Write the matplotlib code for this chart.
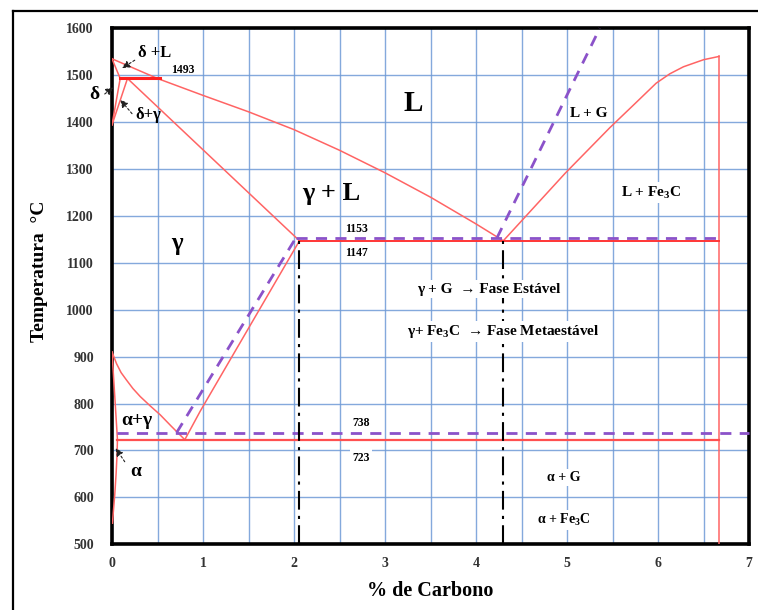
import numpy as np
import matplotlib
matplotlib.use("Agg")
import matplotlib.pyplot as plt
from matplotlib.lines import Line2D

plt.rcParams['font.family'] = ['Liberation Serif', 'DejaVu Serif']
plt.rcParams['font.weight'] = 'bold'
plt.rcParams['mathtext.fontset'] = 'custom'
plt.rcParams['mathtext.rm'] = 'Liberation Serif:bold'
plt.rcParams['mathtext.bf'] = 'Liberation Serif:bold'

#                            Data                     #
# liquidus A-B-C (Fe-Fe3C)
liq_x = [0.0, 0.5, 1.0, 1.5, 2.0, 2.5, 3.0, 3.5, 4.0, 4.3]
liq_t = [1535, 1493, 1457, 1422, 1384, 1340, 1292, 1240, 1183, 1147]
# liquidus C-D
cd_x = [4.3, 4.98, 5.47, 5.75, 5.98, 6.13, 6.28, 6.5, 6.67]
cd_t = [1147, 1291, 1388, 1440, 1483, 1503, 1518, 1533, 1540]
# delta region
ah_x = [0.0, 0.09]
ah_t = [1535, 1493]
hb_x = [0.09, 0.53]
hb_t = [1493, 1493]
nh_x = [0.0, 0.09]
nh_t = [1394, 1493]
nj_x = [0.0, 0.17]
nj_t = [1394, 1493]
# solidus J-E
je_x = [0.17, 2.06]
je_t = [1493, 1147]
# eutectic E-C-F
ecf_x = [2.06, 6.67]
ecf_t = [1147, 1147]
# cementite vertical
fe3c_x = [6.67, 6.67]
fe3c_t = [1540, 500]
# A3 G-S
gs_x = [0.0, 0.05, 0.1, 0.16, 0.23, 0.31, 0.42, 0.53, 0.65, 0.8]
gs_t = [910, 885, 866, 850, 832, 815, 795, 776, 752, 723]
# Acm S-E
se_x = [0.8, 0.97, 2.06]
se_t = [723, 784, 1147]
# eutectoid P-S-K
psk_x = [0.06, 6.67]
psk_t = [723, 723]
# alpha boundary G-P-Q
gpq_x = [0.0, 0.06, 0.055, 0.045, 0.03, 0.015, 0.005]
gpq_t = [910, 723, 690, 650, 605, 570, 545]

# stable (graphite) system, dashed
g_es_x = [0.71, 2.02]
g_es_t = [738, 1153]
g_ecf_x = [2.02, 6.67]
g_ecf_t = [1153, 1153]
g_cd_x = [4.23, 5.36]
g_cd_t = [1153, 1600]
g_psk_x = [0.06, 7.0]
g_psk_t = [738, 738]

# dash-dot verticals
vert_x = [2.06, 4.3]
vert_top = 1147

xticks = [0, 1, 2, 3, 4, 5, 6, 7]
yticks = [500, 600, 700, 800, 900, 1000, 1100, 1200, 1300, 1400, 1500, 1600]

#                            Figure                                            #
W, H = 758, 610
fig = plt.figure(figsize=(W / 100, H / 100), dpi=100)
ax = fig.add_axes([112 / W, 1 - 544.3 / H, (749 - 112) / W, (544.3 - 28.3) / H])

# outer frame (left and top only visible)
fig.add_artist(Line2D([13 / W, 13 / W], [0, 1 - 11 / H], color='black', lw=1.6,
                      transform=fig.transFigure))
fig.add_artist(Line2D([13 / W, 1], [1 - 11 / H, 1 - 11 / H], color='black', lw=1.6,
                      transform=fig.transFigure))

ax.set_xlim(0, 7)
ax.set_ylim(500, 1600)
ax.set_xticks(xticks)
ax.set_yticks(yticks)
ax.set_xticks(np.arange(0.5, 7, 1.0), minor=True)
ax.grid(which='both', color='#6f9ad6', lw=1.0, alpha=0.85, zorder=0)
ax.set_axisbelow(True)
ax.tick_params(which='both', length=0)
ax.tick_params(axis='y', pad=13, labelsize=10, labelcolor='#333333')
ax.tick_params(axis='x', pad=9, labelsize=10, labelcolor='#333333')
for lab in ax.get_xticklabels() + ax.get_yticklabels():
    lab.set_fontweight('bold')
for sp in ax.spines.values():
    sp.set_linewidth(2.6)
    sp.set_color('black')

red = '#ff6464'
purple = '#8b52c9'
for xs, ts in [(liq_x, liq_t), (cd_x, cd_t), (ah_x, ah_t), (nh_x, nh_t), (nj_x, nj_t),
               (je_x, je_t), (gs_x, gs_t), (se_x, se_t), (gpq_x, gpq_t), (fe3c_x, fe3c_t)]:
    ax.plot(xs, ts, color=red, lw=1.1, zorder=3)
ax.plot(hb_x, hb_t, color='#ff2020', lw=2.2, zorder=3)
ax.plot(ecf_x, ecf_t, color='#ff3535', lw=1.4, zorder=3)
ax.plot(psk_x, psk_t, color='#ff5050', lw=1.6, zorder=3)

for xs, ts in [(g_es_x, g_es_t), (g_ecf_x, g_ecf_t), (g_cd_x, g_cd_t), (g_psk_x, g_psk_t)]:
    ax.plot(xs, ts, color=purple, lw=2.0, ls=(0, (4, 3)), zorder=4, clip_on=False)

for vx in vert_x:
    ax.plot([vx, vx], [500, vert_top], color='black', lw=1.5,
            ls=(0, (9, 3, 1.5, 3)), zorder=4)

# labels
box = dict(facecolor='white', edgecolor='none', pad=1.5)
def label(x, y, s, size, bbox=True):
    ax.text(x, y, s, fontsize=size, fontweight='bold', ha='center', va='center',
            zorder=6, bbox=box if bbox else None)

label(3.31, 1440, 'L', 21, bbox=False)
label(2.41, 1248, r'γ + L', 19, bbox=False)
label(0.71, 1142, 'γ', 18, bbox=False)
label(5.24, 1419, 'L + G', 11)
label(5.93, 1250, r'L + Fe$_{\mathbf{3}}$C', 11)
label(2.69, 1172, '1153', 8.5)
label(2.69, 1120, '1147', 8.5)
label(0.78, 1511, '1493', 8.5, bbox=False)
label(4.14, 1044, 'γ + G  → Fase Estável', 11)
label(4.30, 953, r'γ+ Fe$_{\mathbf{3}}$C  → Fase Metaestável', 11)
label(2.74, 759, '738', 8.5)
label(2.74, 685, '723', 8.5)
label(4.96, 643, 'α + G', 10)
label(4.96, 552, r'α + Fe$_{\mathbf{3}}$C', 10)
label(0.27, 764, 'α+γ', 14, bbox=False)

arrow = dict(arrowstyle='-|>,head_length=0.45,head_width=0.22', color='#222222',
             lw=0.8, ls=(0, (2, 2)), shrinkA=0, shrinkB=0)
def pointer(s, xy, xytext, tip, size):
    ax.annotate(s, xy=xy, xytext=xytext, fontsize=size, fontweight='bold',
                ha='center', va='center', zorder=6, annotation_clip=False)
    ax.annotate('', xy=tip, xytext=xy, arrowprops=arrow, zorder=6,
                annotation_clip=False)

pointer('δ +L', (0.25, 1532), (0.47, 1547), (0.11, 1515), 12)
pointer('δ', (-0.08, 1460), (-0.19, 1458), (0.015, 1474), 14)
pointer('δ+γ', (0.22, 1418), (0.4, 1415), (0.09, 1448), 12)
pointer('α', (0.14, 676), (0.26, 655), (0.04, 705), 14)

ax.set_xlabel('% de Carbono', fontsize=14.5, fontweight='bold', labelpad=8)
ax.set_ylabel('Temperatura  °C', fontsize=14, fontweight='bold')
ax.yaxis.set_label_coords(-0.101, 0.53)

fig.savefig('out.png', dpi=100)
